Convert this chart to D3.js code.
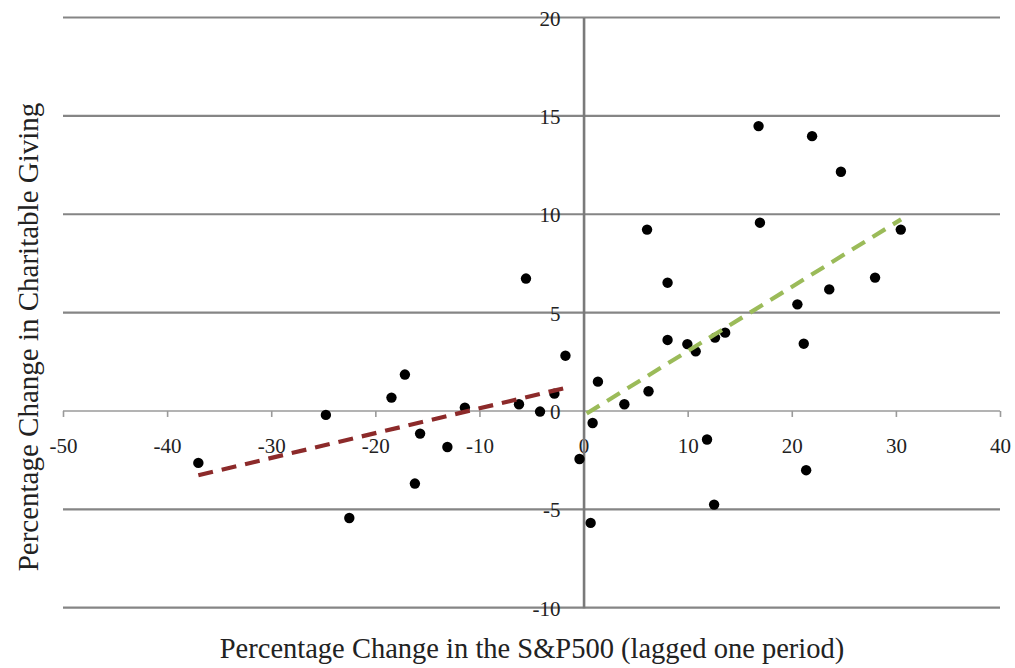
<!DOCTYPE html>
<html>
<head>
<meta charset="utf-8">
<script src="https://cdn.jsdelivr.net/npm/d3@7"></script>
<style>
  body { margin: 0; background: #fff; }
  svg text { font-family: "Liberation Serif", "Times New Roman", serif; fill: #222; }
</style>
</head>
<body>
<div id="chart"></div>
<script>
// S&P500 % change (lagged) vs % change in charitable giving
var spChange = [-37.0, -24.75, -22.5, -18.45, -17.16, -16.2, -15.7, -13.08, -11.4, -6.2,
                -5.53, -4.18, -2.8, -1.74, -0.39, 0.68, 0.87, 1.38, 3.92, 6.1,
                6.24, 8.07, 8.07, 9.97, 10.77, 11.86, 12.54, 12.63, 13.6, 16.81,
                16.94, 20.54, 21.15, 21.38, 21.95, 23.6, 24.72, 28.0, 30.47];
var givingChange = [-2.64, -0.2, -5.44, 0.68, 1.85, -3.69, -1.15, -1.83, 0.17, 0.34,
                    6.73, -0.03, 0.88, 2.81, -2.44, -5.69, -0.61, 1.49, 0.34, 9.22,
                    1.0, 6.52, 3.61, 3.4, 3.03, -1.45, -4.76, 3.73, 3.98, 14.48,
                    9.57, 5.42, 3.42, -3.01, 13.97, 6.18, 12.16, 6.78, 9.22];

// trend line end points (down market / up market)
var downTrend = [[-37.0, -3.27], [-1.77, 1.17]];
var upTrend = [[0.3, -0.13], [30.5, 9.74]];

var xTicks = [-50, -40, -30, -20, -10, 0, 10, 20, 30, 40];
var yTicks = [-10, -5, 0, 5, 10, 15, 20];

var width = 1015, height = 668;
var svg = d3.select("#chart").append("svg")
    .attr("width", width)
    .attr("height", height);

var x = d3.scaleLinear().domain([-50, 40]).range([63, 1000]);
var y = d3.scaleLinear().domain([-10, 20]).range([607.7, 17.5]);

// horizontal gridlines
svg.append("g")
    .selectAll("line")
    .data(yTicks.filter(function (d) { return d !== 0; }))
    .enter().append("line")
    .attr("x1", x(-50))
    .attr("x2", x(40))
    .attr("y1", function (d) { return y(d); })
    .attr("y2", function (d) { return y(d); })
    .attr("stroke", "#858585")
    .attr("stroke-width", 2.2);

// x axis through zero
var xAxis = svg.append("g")
    .attr("transform", "translate(0," + y(0) + ")")
    .call(d3.axisBottom(x).tickValues(xTicks).tickSize(6).tickPadding(21)
        .tickFormat(function (d) { return d; }));
xAxis.select(".domain").attr("stroke", "#9a9a9a").attr("stroke-width", 1.6)
    .attr("d", "M" + x(-50) + ",0H" + x(40));
xAxis.selectAll(".tick line").attr("stroke", "#9a9a9a").attr("stroke-width", 1.6);
xAxis.selectAll(".tick text")
    .attr("font-size", 21)
    .attr("fill", "#222");

// y axis through zero
var yAxis = svg.append("g")
    .attr("transform", "translate(" + x(0) + ",0)")
    .call(d3.axisLeft(y).tickValues(yTicks).tickSize(0).tickPadding(23)
        .tickFormat(function (d) { return d; }));
yAxis.select(".domain").attr("stroke", "#7a7a7a").attr("stroke-width", 2.6);
yAxis.selectAll(".tick text")
    .attr("font-size", 21)
    .attr("fill", "#222")
    .attr("dy", "0.36em");

// points
var points = spChange.map(function (d, i) { return [d, givingChange[i]]; });
svg.append("g")
    .selectAll("circle")
    .data(points)
    .enter().append("circle")
    .attr("cx", function (d) { return x(d[0]); })
    .attr("cy", function (d) { return y(d[1]); })
    .attr("r", 5.2)
    .attr("fill", "#000");

// trend lines
var line = d3.line()
    .x(function (d) { return x(d[0]); })
    .y(function (d) { return y(d[1]); });

svg.append("path")
    .datum(downTrend)
    .attr("d", line)
    .attr("fill", "none")
    .attr("stroke", "#8c2a2a")
    .attr("stroke-width", 4.2)
    .attr("stroke-dasharray", "15,9");

svg.append("path")
    .datum(upTrend)
    .attr("d", line)
    .attr("fill", "none")
    .attr("stroke", "#9bbb59")
    .attr("stroke-width", 4.2)
    .attr("stroke-dasharray", "15,9");

// axis titles
svg.append("text")
    .attr("x", 532)
    .attr("y", 658)
    .attr("text-anchor", "middle")
    .attr("font-size", 28.5)
    .text("Percentage Change in the S&P500 (lagged one period)");

svg.append("text")
    .attr("transform", "translate(38,337) rotate(-90)")
    .attr("text-anchor", "middle")
    .attr("font-size", 29)
    .text("Percentage Change in Charitable Giving");
</script>
</body>
</html>
